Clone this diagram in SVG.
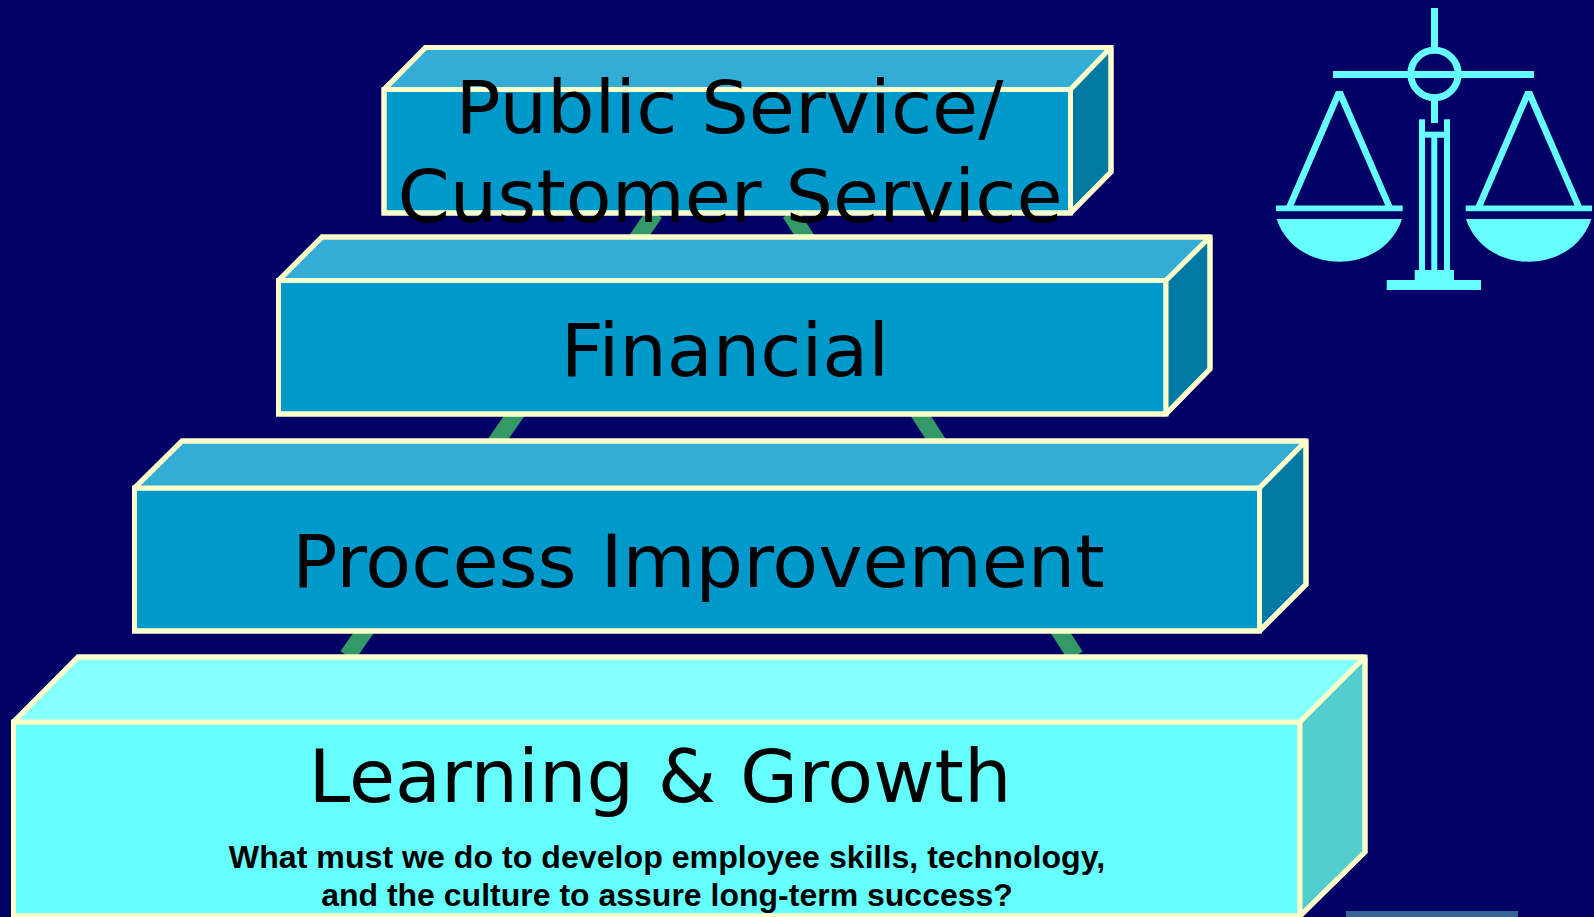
<svg xmlns="http://www.w3.org/2000/svg" width="1594" height="917" viewBox="0 0 1594 917">
<style>
.e{stroke:#FFFFCC;stroke-width:5;stroke-linejoin:miter;stroke-miterlimit:1.5}
.o{fill:none}
.f{fill:#0099CC}.t{fill:#33ADD6}.s{fill:#007AA3}
.cf{fill:#66FFFF}.ct{fill:#85FFFF}.cs{fill:#52CCCC}
.l{font-family:"DejaVu Sans",Verdana,sans-serif;font-size:73px;fill:#000;text-anchor:middle}
.b{font-family:"Liberation Sans",Arial,sans-serif;font-weight:bold;font-size:32.15px;fill:#000;text-anchor:middle}
.i{fill:#66FFFF}
.c{stroke:#339966;stroke-width:17;fill:none}
</style>
<rect width="1594" height="917" fill="#000066"/>
<g id="connectors">
<line class="c" x1="655" y1="213" x2="347.5" y2="656"/>
<line class="c" x1="790" y1="213" x2="1075.5" y2="656"/>
</g>
<g id="public-service">
<polygon class="e f" points="384,89.5 1070.5,89.5 1070.5,213 384,213"/>
<polygon class="e t" points="384,89.5 425.5,47.5 1111,47.5 1070.5,89.5"/>
<polygon class="e s" points="1070.5,89.5 1111,47.5 1111,172 1070.5,213"/>
<polygon class="e o" points="384,89.5 425.5,47.5 1111,47.5 1111,172 1070.5,213 384,213"/>
<text class="l" transform="translate(729.5 132.7) scale(1.027 1)">Public Service/</text>
<text class="l" transform="translate(730 221.7) scale(1.027 1)">Customer Service</text>
</g>
<g id="financial">
<polygon class="e f" points="278.5,280.5 1166,280.5 1166,414 278.5,414"/>
<polygon class="e t" points="278.5,280.5 322,237 1210,237 1166,280.5"/>
<polygon class="e s" points="1166,280.5 1210,237 1210,369 1166,414"/>
<polygon class="e o" points="278.5,280.5 322,237 1210,237 1210,369 1166,414 278.5,414"/>
<text class="l" transform="translate(725 375.5) scale(1.027 1)">Financial</text>
</g>
<g id="process-improvement">
<polygon class="e f" points="134.5,488 1259.5,488 1259.5,631 134.5,631"/>
<polygon class="e t" points="134.5,488 182,441 1306,441 1259.5,488"/>
<polygon class="e s" points="1259.5,488 1306,441 1306,584.5 1259.5,631"/>
<polygon class="e o" points="134.5,488 182,441 1306,441 1306,584.5 1259.5,631 134.5,631"/>
<text class="l" transform="translate(698.5 586.7) scale(1.027 1)">Process Improvement</text>
</g>
<g id="learning-growth">
<polygon class="e cf" points="13.5,722 1300,722 1300,916 13.5,916"/>
<polygon class="e ct" points="13.5,722 78,657 1365,657 1300,722"/>
<polygon class="e cs" points="1300,722 1365,657 1365,852 1300,916"/>
<polygon class="e o" points="13.5,722 78,657 1365,657 1365,852 1300,916 13.5,916"/>
<text class="l" transform="translate(660 802) scale(1.027 1)">Learning &amp; Growth</text>
<text class="b" x="667" y="868">What must we do to develop employee skills, technology,</text>
<text class="b" x="667" y="906" style="font-size:32px">and the culture to assure long-term success?</text>
</g>
<g id="scales">
<rect class="i" x="1431" y="8" width="7" height="40"/>
<circle cx="1434.5" cy="74" r="23.7" fill="none" stroke="#66FFFF" stroke-width="7"/>
<rect class="i" x="1333" y="71" width="201" height="7"/>
<rect class="i" x="1431" y="100" width="7" height="23"/>
<rect class="i" x="1419" y="119.3" width="6" height="151"/>
<rect class="i" x="1444" y="119.3" width="6" height="151"/>
<rect class="i" x="1419" y="131.7" width="31" height="6"/>
<rect class="i" x="1431.3" y="137" width="6" height="133"/>
<rect class="i" x="1414.7" y="270" width="39.3" height="10"/>
<rect class="i" x="1386.7" y="280" width="94.3" height="10"/>
<g id="left-pan">
<path class="i" d="M1286.3 206L1336 91H1342.7L1392.5 206H1385.5L1339.3 100L1293.5 206Z"/>
<rect class="i" x="1276" y="205.5" width="126.7" height="5.7"/>
<path class="i" d="M1276.7 219H1402C1393.7 245 1368.7 261.7 1339.3 261.7S1285 245 1276.7 219Z"/>
</g>
<g id="right-pan">
<path class="i" d="M1475.6 206L1525.3 91H1532L1581.8 206H1574.8L1528.6 100L1482.8 206Z"/>
<rect class="i" x="1465.7" y="205.5" width="126.3" height="5.7"/>
<path class="i" d="M1466 219H1591.3C1583 245 1558 261.7 1528.6 261.7S1474.3 245 1466 219Z"/>
</g>
</g>
<rect id="footer-bar" x="1346" y="911" width="172" height="6" fill="#336699"/>
</svg>
